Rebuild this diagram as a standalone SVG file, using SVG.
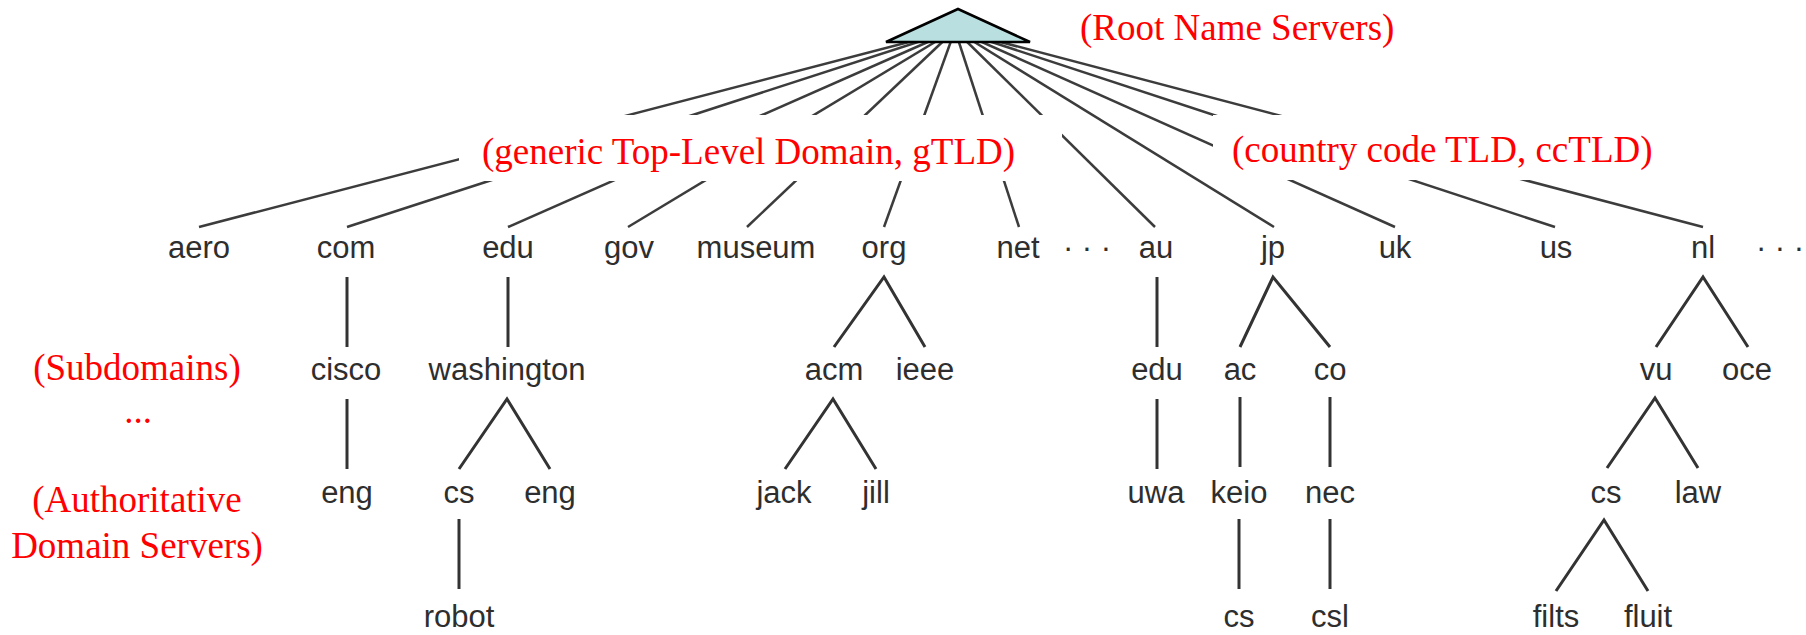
<svg xmlns="http://www.w3.org/2000/svg" width="1806" height="635" viewBox="0 0 1806 635">
<style>
.n{font-family:"Liberation Sans",Arial,sans-serif;font-size:31px;fill:#2e2e2e;text-anchor:middle}
.r{font-family:"Liberation Serif","Times New Roman",serif;font-size:37px;fill:#ff0000}
.c{text-anchor:middle}
.fan line{stroke:#3c3c3c;stroke-width:2.5;fill:none}
.sub line,.sub polyline{stroke:#333;stroke-width:3;fill:none}
</style>
<rect width="1806" height="635" fill="#fff"/>
<g id="connectors">
<g class="fan">
<line x1="955" y1="30" x2="199" y2="227"/>
<line x1="955" y1="30" x2="347" y2="227"/>
<line x1="955" y1="30" x2="508" y2="227"/>
<line x1="955" y1="30" x2="628" y2="227"/>
<line x1="955" y1="30" x2="747" y2="227"/>
<line x1="955" y1="30" x2="884" y2="227"/>
<line x1="955" y1="30" x2="1019" y2="227"/>
<line x1="955" y1="30" x2="1155" y2="227"/>
<line x1="955" y1="30" x2="1274" y2="227"/>
<line x1="955" y1="30" x2="1395" y2="227"/>
<line x1="955" y1="30" x2="1555" y2="227"/>
<line x1="955" y1="30" x2="1703" y2="227"/>
</g>
<g class="sub">
<line x1="347" y1="277" x2="347" y2="347"/>
<line x1="508" y1="277" x2="508" y2="347"/>
<line x1="1157" y1="277" x2="1157" y2="347"/>
<polyline points="834,347 884,277 925,347"/>
<polyline points="1240,347 1273,277 1330,347"/>
<polyline points="1656,347 1703,277 1748,347"/>
<line x1="347" y1="399" x2="347" y2="469"/>
<polyline points="459,469 507,399 550,469"/>
<polyline points="785,469 833,399 876,469"/>
<line x1="1157" y1="399" x2="1157" y2="469"/>
<line x1="1240" y1="397" x2="1240" y2="467"/>
<line x1="1330" y1="397" x2="1330" y2="467"/>
<polyline points="1607,468 1655,398 1698,468"/>
<line x1="459" y1="519" x2="459" y2="589"/>
<line x1="1239" y1="519" x2="1239" y2="589"/>
<line x1="1330" y1="519" x2="1330" y2="589"/>
<polyline points="1556,591 1604,520 1648,591"/>
</g>
</g>
<g id="label-gtld">
<rect x="459" y="115" width="603" height="66" fill="#fff"/>
<text class="r" x="482" y="164">(generic Top-Level Domain, gTLD)</text>
</g>
<g id="label-cctld">
<rect x="1213" y="115" width="467" height="65" fill="#fff"/>
<text class="r" x="1232" y="162">(country code TLD, ccTLD)</text>
</g>
<g id="root">
<polygon points="958,9 1030,42 886,42" fill="#b9dfe0" stroke="#000" stroke-width="2.5" stroke-linejoin="miter"/>
</g>
<g id="label-root"><text class="r" x="1080" y="40">(Root Name Servers)</text></g>
<g id="label-left">
<text class="r c" x="137" y="380">(Subdomains)</text>
<text class="r c" x="138" y="423">...</text>
<text class="r c" x="137" y="512">(Authoritative</text>
<text class="r c" x="137" y="558">Domain Servers)</text>
</g>
<g id="tld-aero"><text class="n" x="199" y="258">aero</text></g>
<g id="tld-com"><text class="n" x="346" y="258">com</text></g>
<g id="tld-edu"><text class="n" x="508" y="258">edu</text></g>
<g id="tld-gov"><text class="n" x="629" y="258">gov</text></g>
<g id="tld-museum"><text class="n" x="756" y="258">museum</text></g>
<g id="tld-org"><text class="n" x="884" y="258">org</text></g>
<g id="tld-net"><text class="n" x="1018" y="258">net</text></g>
<g id="dots-1"><text class="n" x="1087" y="258">· · ·</text></g>
<g id="tld-au"><text class="n" x="1156" y="258">au</text></g>
<g id="tld-jp"><text class="n" x="1273" y="258">jp</text></g>
<g id="tld-uk"><text class="n" x="1395" y="258">uk</text></g>
<g id="tld-us"><text class="n" x="1556" y="258">us</text></g>
<g id="tld-nl"><text class="n" x="1703" y="258">nl</text></g>
<g id="dots-2"><text class="n" x="1780" y="258">· · ·</text></g>
<g id="com-cisco"><text class="n" x="346" y="380">cisco</text></g>
<g id="edu-washington"><text class="n" x="507" y="380">washington</text></g>
<g id="org-acm"><text class="n" x="834" y="380">acm</text></g>
<g id="org-ieee"><text class="n" x="925" y="380">ieee</text></g>
<g id="au-edu"><text class="n" x="1157" y="380">edu</text></g>
<g id="jp-ac"><text class="n" x="1240" y="380">ac</text></g>
<g id="jp-co"><text class="n" x="1330" y="380">co</text></g>
<g id="nl-vu"><text class="n" x="1656" y="380">vu</text></g>
<g id="nl-oce"><text class="n" x="1747" y="380">oce</text></g>
<g id="cisco-eng"><text class="n" x="347" y="503">eng</text></g>
<g id="washington-cs"><text class="n" x="459" y="503">cs</text></g>
<g id="washington-eng"><text class="n" x="550" y="503">eng</text></g>
<g id="acm-jack"><text class="n" x="784" y="503">jack</text></g>
<g id="acm-jill"><text class="n" x="876" y="503">jill</text></g>
<g id="edu-uwa"><text class="n" x="1156" y="503">uwa</text></g>
<g id="ac-keio"><text class="n" x="1239" y="503">keio</text></g>
<g id="co-nec"><text class="n" x="1330" y="503">nec</text></g>
<g id="vu-cs"><text class="n" x="1606" y="503">cs</text></g>
<g id="vu-law"><text class="n" x="1698" y="503">law</text></g>
<g id="cs-robot"><text class="n" x="459" y="627">robot</text></g>
<g id="keio-cs"><text class="n" x="1239" y="627">cs</text></g>
<g id="nec-csl"><text class="n" x="1330" y="627">csl</text></g>
<g id="cs-filts"><text class="n" x="1556" y="627">filts</text></g>
<g id="cs-fluit"><text class="n" x="1648" y="627">fluit</text></g>
</svg>
